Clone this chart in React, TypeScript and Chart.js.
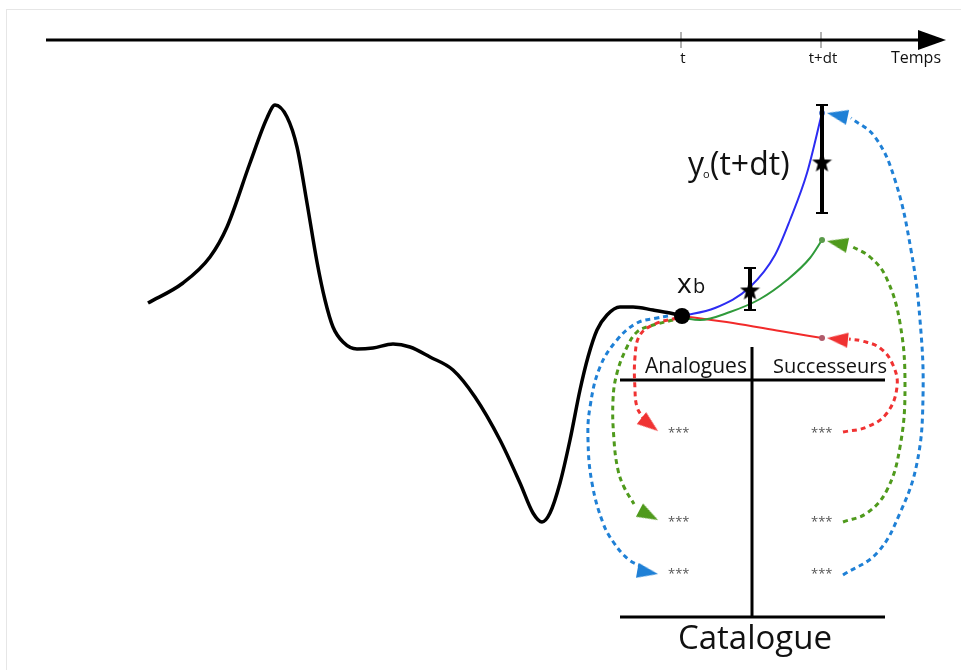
import React, { useEffect, useRef } from "react";
import { Chart, registerables } from "chart.js";
Chart.register(...registerables);

const W = 961;
const H = 670;

// ---- time axis ----
const timeAxisX = [46, 925];
const timeAxisY = 40;
const timeTipX = 946;
const timeTicksX = [681, 821];
const timeTickLabels = ["t", "t+dt"];

// ---- observed series (black curve) ----
const seriesX = [148, 183, 210, 227, 250, 267, 275, 287, 297, 307, 317, 325, 333, 343, 357, 373, 393, 410, 430, 453, 475, 500, 520, 533, 542, 550, 560, 570, 580, 588, 597, 607, 620, 633, 653, 670, 682];
const seriesY = [303, 283, 257, 227, 163, 118, 105, 117, 147, 203, 262, 300, 327, 342, 349, 348, 344, 347, 357, 370, 397, 440, 483, 513, 522, 513, 483, 440, 390, 357, 330, 315, 307, 307, 310, 313, 316];

// ---- forecasts from x_b ----
const blueX = [682, 715, 750, 775, 790, 807, 822];
const blueY = [316, 308, 287, 255, 220, 173, 113];
const greenX = [682, 700, 730, 760, 787, 810, 822];
const greenY = [318, 320, 312, 299, 280, 258, 240];
const redX = [682, 733, 780, 822];
const redY = [316, 323, 331, 338];

// ---- analogue links (left) ----
const redLeftX = [677, 655, 640, 635, 635, 637, 643];
const redLeftY = [318, 324, 335, 357, 390, 407, 418];
const greenLeftX = [673, 650, 637, 627, 617, 613, 614, 618, 624, 634];
const greenLeftY = [320, 326, 332, 347, 373, 400, 440, 470, 487, 504];
const blueLeftX = [668, 657, 637, 617, 600, 590, 588, 592, 603, 614, 628, 642];
const blueLeftY = [316, 318, 323, 340, 367, 407, 440, 483, 523, 543, 559, 567];

// ---- successor links (right) ----
const redRightX = [843, 867, 887, 897, 893, 880, 862, 849];
const redRightY = [432, 427, 413, 387, 365, 348, 341, 339];
const greenRightX = [843, 867, 887, 900, 905, 900, 886, 870, 851];
const greenRightY = [522, 513, 490, 447, 387, 323, 277, 257, 246];
const blueRightX = [843, 877, 900, 917, 923, 920, 911, 895, 875, 851];
const blueRightY = [575, 553, 513, 463, 397, 320, 250, 180, 137, 118];

// arrow tips and directions (degrees, clockwise from up)
const arrowTipsX = [658, 658, 658, 827, 827, 827];
const arrowTipsY = [431, 520, 574, 338, 241, 113];
const arrowDirs = [128, 118, 100, 276, 282, 282];

// ---- observations with error bars ----
const obsX = [750, 822];
const obsY = [290, 162];
const obsLow = [310, 213];
const obsHigh = [268, 105];

// ---- x_b point ----
const xbX = 682;
const xbY = 316;

// ---- catalogue table ----
const tableLeft = 620;
const tableRight = 885;
const tableMid = 752;
const tableHeaderY = 380;
const tableTop = 347;
const tableBottom = 617;
const rowsY = [430, 519, 571];
const analogueX = 668;
const successorX = 811;

const BLUE_DASH = "#1f80d6";
const GREEN_DASH = "#4f9a1c";
const RED_DASH = "#f03232";
const BLUE_LINE = "#2c2cf2";
const GREEN_LINE = "#2f9a3a";
const RED_LINE = "#f22a2a";

const FONT = '"Open Sans", "DejaVu Sans", sans-serif';

const pts = (xs: number[], ys: number[]) => xs.map((x, i) => ({ x, y: ys[i] }));

function makeArrow(color: string, w: number, h: number) {
  const c = document.createElement("canvas");
  c.width = w;
  c.height = h;
  const g = c.getContext("2d")!;
  g.fillStyle = color;
  g.beginPath();
  g.moveTo(w / 2, 0);
  g.lineTo(w, h);
  g.lineTo(0, h);
  g.closePath();
  g.fill();
  return c;
}

function makeStar(size: number) {
  const c = document.createElement("canvas");
  c.width = size;
  c.height = size;
  const g = c.getContext("2d")!;
  g.fillStyle = "#000";
  g.beginPath();
  const R = size / 2;
  const r = R * 0.42;
  for (let i = 0; i < 10; i++) {
    const rad = (Math.PI / 5) * i;
    const rr = i % 2 === 0 ? R : r;
    const px = R + Math.sin(rad) * rr;
    const py = R + 1 - Math.cos(rad) * rr;
    if (i === 0) g.moveTo(px, py);
    else g.lineTo(px, py);
  }
  g.closePath();
  g.fill();
  return c;
}

function arrowCenter(tx: number, ty: number, deg: number, half: number) {
  const rad = (deg * Math.PI) / 180;
  return { x: tx - Math.sin(rad) * half, y: ty + Math.cos(rad) * half };
}

type Label = { text: string; x: number; y: number; size: number; align: CanvasTextAlign; color?: string };

const labels: Label[] = [
  { text: timeTickLabels[0], x: timeTicksX[0] + 2, y: 63, size: 15, align: "center" },
  { text: timeTickLabels[1], x: timeTicksX[1] + 2, y: 63, size: 15, align: "center" },
  { text: "Temps", x: 916, y: 63, size: 16, align: "center" },
  { text: "x", x: 677, y: 293, size: 28, align: "left" },
  { text: "b", x: 693, y: 293, size: 20, align: "left" },
  { text: "y", x: 688, y: 175, size: 32, align: "left" },
  { text: "o", x: 703, y: 178, size: 11, align: "left" },
  { text: "(t+dt)", x: 710, y: 175, size: 32, align: "left" },
  { text: "Analogues", x: 696, y: 373, size: 21, align: "center" },
  { text: "Successeurs", x: 830, y: 373, size: 20, align: "center" },
  { text: "Catalogue", x: 755, y: 649, size: 33, align: "center" },
  ...rowsY.map((r) => ({ text: "***", x: analogueX, y: r + 7, size: 13, align: "left" as CanvasTextAlign, color: "#555" })),
  ...rowsY.map((r) => ({ text: "***", x: successorX, y: r + 7, size: 13, align: "left" as CanvasTextAlign, color: "#555" })),
];

const labelsPlugin = {
  id: "diagramLabels",
  afterDatasetsDraw(chart: any) {
    const { ctx, scales } = chart;
    const sx = scales.x;
    const sy = scales.y;
    for (const l of labels) {
      ctx.save();
      ctx.font = `${l.size}px ${FONT}`;
      ctx.fillStyle = l.color || "#111";
      ctx.textAlign = l.align;
      ctx.textBaseline = "alphabetic";
      ctx.fillText(l.text, sx.getPixelForValue(l.x), sy.getPixelForValue(l.y));
      ctx.restore();
    }
  },
};

export default function App() {
  const ref = useRef<HTMLCanvasElement | null>(null);

  useEffect(() => {
    document.body.style.margin = "0";
    const canvas = ref.current;
    if (!canvas) return;

    const arrowColors = [RED_DASH, GREEN_DASH, BLUE_DASH, RED_DASH, GREEN_DASH, BLUE_DASH];
    const arrowDatasets = arrowTipsX.map((tx, i) => {
      const aw = 15;
      const ah = 21;
      const c = arrowCenter(tx, arrowTipsY[i], arrowDirs[i], ah / 2);
      return {
        data: [c],
        pointStyle: makeArrow(arrowColors[i], aw, ah),
        rotation: arrowDirs[i],
        pointRadius: 10,
        showLine: false,
      };
    });

    const timeArrow = arrowCenter(timeTipX, timeAxisY, 90, 14);
    const star = makeStar(21);

    const line = (xs: number[], ys: number[], color: string, width: number, dash: number[] = [], tension = 0.4, monotone = false) => ({
      data: pts(xs, ys),
      showLine: true,
      borderColor: color,
      borderWidth: width,
      borderDash: dash,
      borderCapStyle: "butt",
      tension,
      cubicInterpolationMode: monotone ? "monotone" : "default",
      pointRadius: 0,
      fill: false,
    });

    const datasets: any[] = [
      { data: [{ x: xbX, y: xbY }], pointRadius: 8, backgroundColor: "#000", borderColor: "#000", pointBorderWidth: 0 },
      { data: pts(obsX, obsY), pointStyle: star, pointRadius: 10 },
      ...obsX.map((x, i) => ({
        data: [{ x, y: obsLow[i] }, { x, y: obsHigh[i] }],
        showLine: true,
        borderColor: "#000",
        borderWidth: 4,
        pointStyle: "line",
        pointRadius: 6,
        pointBorderWidth: 2,
        pointBorderColor: "#000",
      })),
      { data: [{ x: blueX[blueX.length - 1], y: blueY[blueY.length - 1] }], pointRadius: 3, backgroundColor: "#5a7fd0", borderWidth: 0 },
      { data: [{ x: greenX[greenX.length - 1], y: greenY[greenY.length - 1] }], pointRadius: 3, backgroundColor: "#5a9a4a", borderWidth: 0 },
      { data: [{ x: redX[redX.length - 1], y: redY[redY.length - 1] }], pointRadius: 3, backgroundColor: "#b05a6a", borderWidth: 0 },
      ...arrowDatasets,
      { data: [timeArrow], pointStyle: makeArrow("#000", 20, 28), rotation: 90, pointRadius: 12 },
      line(blueX, blueY, BLUE_LINE, 2, [], 0.4, true),
      line(greenX, greenY, GREEN_LINE, 2, [], 0.4, true),
      line(redX, redY, RED_LINE, 2, [], 0.4, true),
      line(seriesX, seriesY, "#000", 3.5, [], 0.4, true),
      line(redLeftX, redLeftY, RED_DASH, 3, [5, 4]),
      line(greenLeftX, greenLeftY, GREEN_DASH, 3, [5, 4]),
      line(blueLeftX, blueLeftY, BLUE_DASH, 3, [5, 4]),
      line(redRightX, redRightY, RED_DASH, 3, [5, 4]),
      line(greenRightX, greenRightY, GREEN_DASH, 3, [5, 4]),
      line(blueRightX, blueRightY, BLUE_DASH, 3, [5, 4]),
      line(timeAxisX, [timeAxisY, timeAxisY], "#000", 3, [], 0),
      ...timeTicksX.map((x) => line([x, x], [timeAxisY - 8, timeAxisY + 8], "#999", 1.5, [], 0)),
      line([tableLeft, tableRight], [tableHeaderY, tableHeaderY], "#000", 3, [], 0),
      line([tableLeft, tableRight], [tableBottom, tableBottom], "#000", 3, [], 0),
      line([tableMid, tableMid], [tableTop, tableBottom], "#000", 3, [], 0),
    ];

    const chart = new Chart(canvas, {
      type: "scatter",
      data: { datasets },
      options: {
        responsive: false,
        animation: false,
        devicePixelRatio: 1,
        layout: { padding: 0, autoPadding: false },
        events: [],
        plugins: { legend: { display: false }, tooltip: { enabled: false }, title: { display: false } },
        scales: {
          x: { type: "linear", min: 0, max: W, display: false },
          y: { type: "linear", min: 0, max: H, reverse: true, display: false },
        },
        elements: { point: { hitRadius: 0 } },
      } as any,
      plugins: [labelsPlugin],
    });
    return () => chart.destroy();
  }, []);

  return (
    <div style={{ position: "relative", width: W, height: H, background: "#fff" }}>
      <div
        style={{
          position: "absolute",
          left: 6,
          top: 9,
          right: 0,
          bottom: 0,
          borderTop: "1px solid #e6e6e6",
          borderLeft: "1px solid #e6e6e6",
        }}
      />
      <canvas ref={ref} width={W} height={H} style={{ position: "absolute", left: 0, top: 0 }} />
    </div>
  );
}
